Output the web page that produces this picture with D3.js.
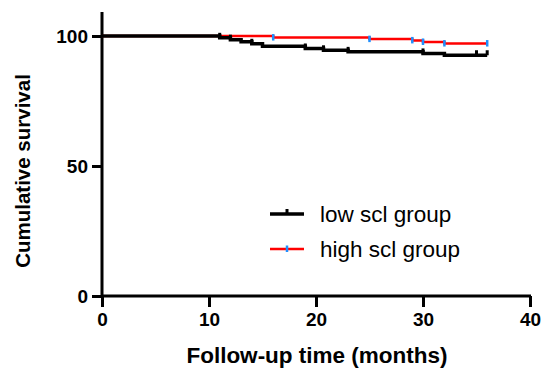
<!DOCTYPE html>
<html>
<head>
<meta charset="utf-8">
<script src="https://cdn.jsdelivr.net/npm/d3@7"></script>
<style>
  body { margin: 0; background: #fff; }
  svg { font-family: "Liberation Sans", Arial, sans-serif; }
</style>
</head>
<body>
<div id="chart"></div>
<script>
// --- data ---
const lowTimes = [0, 11, 12, 13, 14, 15, 19, 20.7, 23, 30, 32, 36]
const lowSurv = [100, 99.3, 98.6, 97.8, 97.0, 96.1, 95.2, 94.5, 93.9, 93.3, 92.6, 92.6]
const lowCensor = [11, 12, 14, 19, 20.7, 23, 30, 35, 36]

const highTimes = [0, 16, 25, 29, 30, 32, 36]
const highSurv = [100, 99.4, 98.8, 98.3, 97.7, 97.1, 97.1]
const highCensor = [16, 25, 29, 30, 32, 36]

const xTicks = [0, 10, 20, 30, 40]
const yTicks = [0, 50, 100]
const seriesNames = ['low scl group', 'high scl group']

const width = 544
const height = 370

const x = d3.scaleLinear().domain([0, 40]).range([102, 530])
const y = d3.scaleLinear().domain([0, 100]).range([296, 36])

const svg = d3.select('#chart').append('svg')
  .attr('width', width)
  .attr('height', height)

// --- axes ---
const xAxis = svg.append('g')
  .attr('transform', `translate(0,${y(0)})`)
  .call(d3.axisBottom(x).tickValues(xTicks).tickSize(11).tickPadding(6).tickSizeOuter(0))
const yAxis = svg.append('g')
  .attr('transform', `translate(${x(0)},0)`)
  .call(d3.axisLeft(y).tickValues(yTicks).tickSize(10).tickPadding(4).tickSizeOuter(0))

// stretch the y axis line up past 100
yAxis.select('.domain').attr('d', `M0,${y(0) + 1}V12`)
xAxis.select('.domain').attr('d', `M${x(0) - 1},0H${x(40) + 1}`)

;[xAxis, yAxis].forEach(a => {
  a.selectAll('.domain, line').attr('stroke', '#000').attr('stroke-width', 3)
  a.selectAll('text')
    .attr('fill', '#000')
    .style('font-size', '19px')
    .style('font-weight', 'bold')
})

svg.append('text')
  .attr('x', 317).attr('y', 363)
  .attr('text-anchor', 'middle')
  .style('font-size', '22.5px').style('font-weight', 'bold')
  .text('Follow-up time (months)')

svg.append('text')
  .attr('transform', `translate(30,171) rotate(-90)`)
  .attr('text-anchor', 'middle')
  .style('font-size', '20.5px').style('font-weight', 'bold')
  .text('Cumulative survival')

// --- survival curves ---
const line = d3.line().curve(d3.curveStepAfter).x(d => x(d[0])).y(d => y(d[1]))
const survAt = (times, surv, t) => surv[d3.bisectRight(times, t) - 1]

const high = d3.zip(highTimes, highSurv)
const low = d3.zip(lowTimes, lowSurv)

svg.append('path').datum(high)
  .attr('d', line).attr('fill', 'none')
  .attr('stroke', '#ff0000').attr('stroke-width', 2.5)

svg.append('path').datum(low)
  .attr('d', line).attr('fill', 'none')
  .attr('stroke', '#000').attr('stroke-width', 3.5)

svg.append('g').selectAll('line')
  .data(lowCensor)
  .join('line')
    .attr('x1', d => x(d)).attr('x2', d => x(d))
    .attr('y1', d => y(survAt(lowTimes, lowSurv, d)))
    .attr('y2', d => y(survAt(lowTimes, lowSurv, d)) - 5)
    .attr('stroke', '#000').attr('stroke-width', 3)

svg.append('g').selectAll('line')
  .data(highCensor)
  .join('line')
    .attr('x1', d => x(d)).attr('x2', d => x(d))
    .attr('y1', d => y(survAt(highTimes, highSurv, d)) - 3.5)
    .attr('y2', d => y(survAt(highTimes, highSurv, d)) + 3)
    .attr('stroke', '#1e90ff').attr('stroke-width', 2.5)

// --- legend ---
const legend = svg.append('g').attr('transform', 'translate(270,214)')
const rows = legend.selectAll('g')
  .data(seriesNames)
  .join('g')
    .attr('transform', (d, i) => `translate(0,${i * 35})`)

rows.append('line')
  .attr('x1', 0).attr('x2', 34).attr('y1', 0).attr('y2', 0)
  .attr('stroke', (d, i) => i === 0 ? '#000' : '#ff0000')
  .attr('stroke-width', (d, i) => i === 0 ? 3.5 : 2.5)
rows.append('line')
  .attr('x1', 17).attr('x2', 17)
  .attr('y1', (d, i) => i === 0 ? 0 : -3.5)
  .attr('y2', (d, i) => i === 0 ? -5 : 3)
  .attr('stroke', (d, i) => i === 0 ? '#000' : '#1e90ff')
  .attr('stroke-width', (d, i) => i === 0 ? 3 : 2.5)
rows.append('text')
  .attr('x', 50).attr('y', 0).attr('dy', '0.35em')
  .style('font-size', '22.5px')
  .text(d => d)
</script>
</body>
</html>
